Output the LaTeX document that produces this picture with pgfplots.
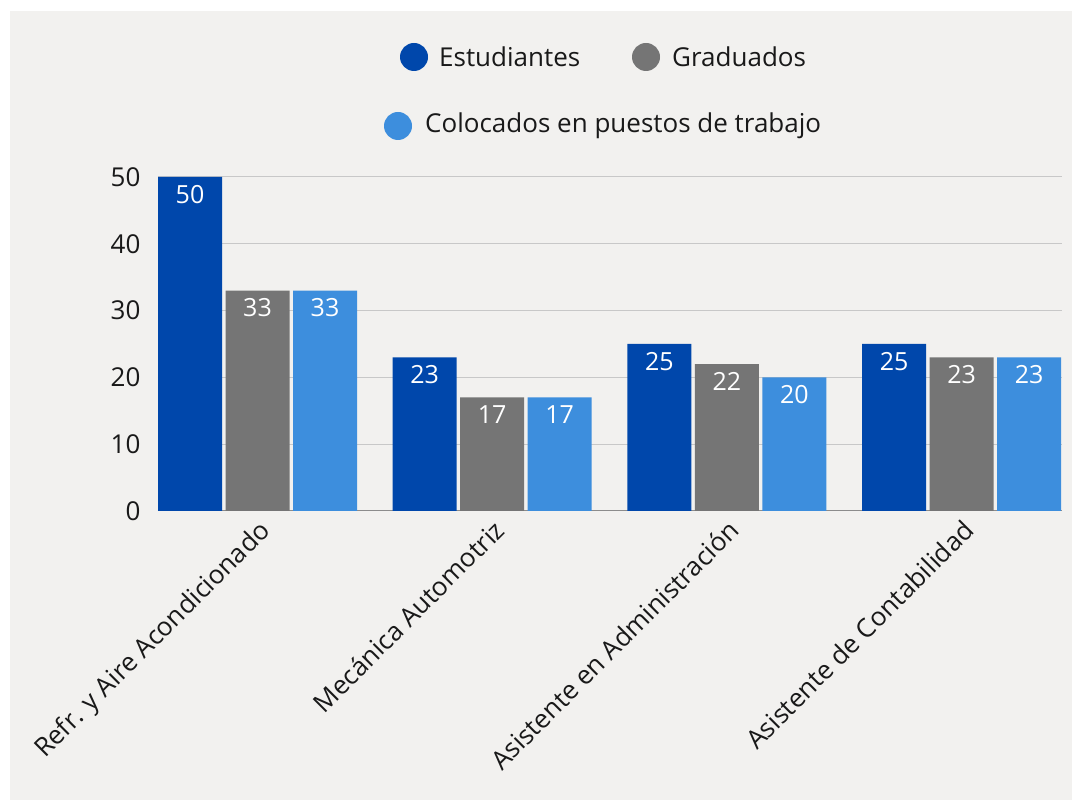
\documentclass[border=0pt]{standalone}
\usepackage{fontspec}
\setmainfont{Open Sans}
\usepackage{pgfplots}
\pgfplotsset{compat=1.18}
\definecolor{cEst}{HTML}{0047AB}
\definecolor{cGrad}{HTML}{757575}
\definecolor{cCol}{HTML}{3D8EDD}
\definecolor{bg}{HTML}{F2F1EF}
\definecolor{gridc}{HTML}{C8C8C8}
\newcommand{\fs}[1]{\fontsize{#1}{#1}\selectfont}

\begin{document}
\begin{tikzpicture}[x=1pt,y=1pt]
% page and background
\fill[white] (0,0) rectangle (1072,800);
\fill[bg] (10,0) rectangle (1072,789);

\begin{axis}[
    at={(158pt,289pt)}, anchor=south west,
    scale only axis, width=904pt, height=334pt,
    ymin=0, ymax=50, xmin=-0.424, xmax=3.428,
    ybar=3.5pt, bar width=64pt,
    axis x line*=bottom, axis y line*=left,
    y axis line style={draw=none},
    x axis line style={draw=black!45, line width=1pt, -},
    tick style={draw=none},
    ytick={0,10,20,30,40,50},
    ymajorgrids, grid style={gridc, line width=1pt},
    xtick={0,1,2,3},
    xticklabels={Refr. y Aire Acondicionado, Mecánica Automotriz, Asistente en Administración, Asistente de Contabilidad},
    xticklabel style={rotate=45, anchor=north east, font=\fs{26}, text=black!90, inner sep=2pt},
    yticklabel style={font=\fs{26}, text=black!90, xshift=-14pt},
    /pgf/number format/assume math mode=true,
    nodes near coords,
    nodes near coords style={anchor=north, text=white, font=\fs{25}, yshift=-8pt, inner sep=0pt},
]
% Estudiantes
\addplot[fill=cEst, draw=none] coordinates {(0,50) (1,23) (2,25) (3,25)};
% Graduados
\addplot[fill=cGrad, draw=none] coordinates {(0,33) (1,17) (2,22) (3,23)};
% Colocados en puestos de trabajo
\addplot[fill=cCol, draw=none] coordinates {(0,33) (1,17) (2,20) (3,23)};
\end{axis}

% legend
\fill[cEst] (414,743) circle (14);
\node[anchor=west, font=\fs{26}, text=black!90, inner sep=0pt] at (439,743) {Estudiantes};
\fill[cGrad] (646,743) circle (14);
\node[anchor=west, font=\fs{26}, text=black!90, inner sep=0pt] at (672,743) {Graduados};
\fill[cCol] (398,674) circle (14);
\node[anchor=west, font=\fs{26}, text=black!90, inner sep=0pt] at (425,674) {Colocados en puestos de trabajo};
\end{tikzpicture}
\end{document}
